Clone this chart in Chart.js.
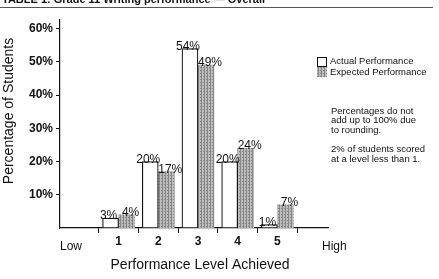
<!DOCTYPE html>
<html>
<head>
<meta charset="utf-8">
<script src="https://cdn.jsdelivr.net/npm/chart.js@4"></script>
<style>
  body { margin: 0; background: #fff; }
  #wrap { width: 439px; height: 279px; }
</style>
</head>
<body>
<div id="wrap"><canvas id="chart" width="439" height="279"></canvas></div>
<script>
// data
const levels = [1, 2, 3, 4, 5];
const actual = [3, 20, 54, 20, 1];
const expected = [4, 17, 49, 24, 7];
const yTicks = [10, 20, 30, 40, 50, 60];
const seriesNames = ["Actual Performance", "Expected Performance"];
const notes = ["Percentages do not", "add up to 100% due", "to rounding.", "", "2% of students scored", "at a level less than 1."];

const FONT = "'Liberation Sans', Arial, Helvetica, sans-serif";

// grey stipple used for the expected bars
function makePattern(){
  const pc = document.createElement("canvas");
  pc.width = 3; pc.height = 3;
  const g = pc.getContext("2d");
  g.fillStyle = "#bdbdbd";
  g.fillRect(0, 0, 3, 3);
  g.fillStyle = "#858585";
  g.fillRect(0, 0, 1, 3);
  g.fillRect(2, 1, 1, 1);
  return g.createPattern(pc, "repeat");
}
const grey = makePattern();

const extras = {
  id: "extras",
  afterDatasetsDraw(chart){
    const ctx = chart.ctx;
    ctx.save();
    ctx.fillStyle = "#111";

    // value labels on top of each bar
    ctx.font = "12px " + FONT;
    ctx.textAlign = "center";
    ctx.textBaseline = "alphabetic";
    chart.data.datasets.forEach((ds, di) => {
      chart.getDatasetMeta(di).data.forEach((bar, i) => {
        const dx = di === 0 ? -2 : 4;
        ctx.fillText(ds.data[i].y + "%", bar.x + dx, bar.y + 1);
      });
    });

    // cut-off table title and rule at the top
    ctx.font = "bold 11px " + FONT;
    ctx.textAlign = "left";
    ctx.fillText("TABLE 1: Grade 11 Writing performance \u2014 Overall", 2, 3);
    ctx.strokeStyle = "#555";
    ctx.lineWidth = 1;
    ctx.beginPath();
    ctx.moveTo(0, 7.5); ctx.lineTo(433, 7.5);
    ctx.stroke();

    // Low / High
    ctx.font = "12px " + FONT;
    ctx.textBaseline = "middle";
    ctx.textAlign = "left";
    ctx.fillText("Low", 60, 247);
    ctx.fillText("High", 322, 247);

    // axis titles
    ctx.font = "14px " + FONT;
    ctx.textAlign = "center";
    ctx.fillText("Performance Level Achieved", 200, 265);
    ctx.save();
    ctx.translate(9, 111);
    ctx.rotate(-Math.PI / 2);
    ctx.fillText("Percentage of Students", 0, 0);
    ctx.restore();

    // legend
    ctx.font = "9.5px " + FONT;
    ctx.textAlign = "left";
    ctx.fillStyle = "#fff";
    ctx.fillRect(317, 57, 9, 9);
    ctx.strokeStyle = "#111";
    ctx.strokeRect(317.5, 57.5, 9, 9);
    ctx.fillStyle = grey;
    ctx.fillRect(317, 67, 10, 10);
    ctx.fillStyle = "#111";
    ctx.fillText(seriesNames[0], 330, 61);
    ctx.fillText(seriesNames[1], 330, 72.5);

    // notes
    notes.forEach((t, i) => ctx.fillText(t, 331, 111 + i * 9.6));
    ctx.restore();
  }
};

new Chart(document.getElementById("chart"), {
  type: "bar",
  data: {
    datasets: [
      {
        label: seriesNames[0],
        data: levels.map((l, i) => ({ x: l, y: actual[i] })),
        backgroundColor: "#fff",
        borderColor: "#111",
        borderWidth: 1.2,
        borderSkipped: false,
        barThickness: 16
      },
      {
        label: seriesNames[1],
        data: levels.map((l, i) => ({ x: l, y: expected[i] })),
        backgroundColor: grey,
        borderWidth: 0,
        barThickness: 16
      }
    ]
  },
  options: {
    responsive: false,
    animation: false,
    devicePixelRatio: 1,
    layout: { padding: { top: 20, right: 111, bottom: 0, left: 0 } },
    plugins: { legend: { display: false }, tooltip: { enabled: false } },
    scales: {
      x: {
        type: "linear",
        min: 0.2,
        max: 5.6,
        afterFit: s => { s.height = 51; },
        afterBuildTicks: s => { s.ticks = levels.map(v => ({ value: v })); },
        grid: { drawOnChartArea: false, drawTicks: true, tickLength: 5, color: "#111" },
        border: { color: "#111", width: 1.2 },
        ticks: { color: "#111", padding: 1, font: { family: FONT, size: 12, weight: "bold" } }
      },
      y: {
        min: 0,
        max: 62.6,
        afterFit: s => { s.width = 60; },
        afterBuildTicks: s => { s.ticks = yTicks.map(v => ({ value: v })); },
        grid: { drawOnChartArea: false, drawTicks: true, tickLength: 4, color: "#111" },
        border: { color: "#111", width: 1.2 },
        ticks: {
          color: "#111",
          padding: 3,
          font: { family: FONT, size: 12, weight: "bold" },
          callback: v => v + "%"
        }
      }
    }
  },
  plugins: [extras]
});
</script>
</body>
</html>
